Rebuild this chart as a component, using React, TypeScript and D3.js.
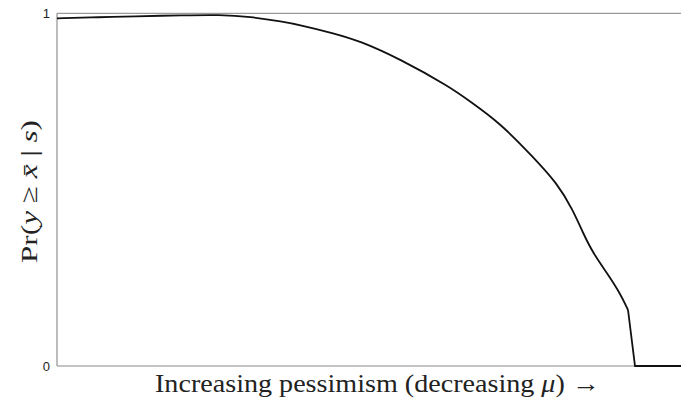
import React from "react";
import * as d3 from "d3";

const xs = [0, 0.0689, 0.1218, 0.2019, 0.2612, 0.3093, 0.3622, 0.3894, 0.4423, 0.4856, 0.5497, 0.6298, 0.6587, 0.7099, 0.7628, 0.8013, 0.8269, 0.8429, 0.859, 0.8814, 0.9022, 0.9151, 0.9263, 1];
const ys = [0.9858, 0.9889, 0.9915, 0.9943, 0.996, 0.9904, 0.9762, 0.9668, 0.9441, 0.9215, 0.8704, 0.791, 0.7543, 0.6895, 0.5926, 0.5189, 0.4423, 0.3771, 0.3204, 0.2637, 0.207, 0.1588, 0, 0];
const yTicks = [0, 1];

export default function App() {
  const W = 681, H = 401;
  const left = 57, right = 681, top = 13.3, bottom = 366;
  const x = d3.scaleLinear().domain([0, 1]).range([left, right]);
  const y = d3.scaleLinear().domain([0, 1]).range([bottom, top]);
  const data = xs.map((v, i) => [v, ys[i]] as [number, number]);
  const kinkIdx = 21;
  const smooth = d3.line<[number, number]>().x(d => x(d[0])).y(d => y(d[1])).curve(d3.curveBasis);
  const straight = d3.line<[number, number]>().x(d => x(d[0])).y(d => y(d[1]));
  return (
    <svg width={W} height={H} style={{ position: "absolute", left: 0, top: 0 }}>
      <rect width={W} height={H} fill="#fff" />
      <line x1={left} x2={right} y1={top} y2={top} stroke="#9a9a9a" strokeWidth={1.3} />
      <line x1={left} x2={right} y1={bottom} y2={bottom} stroke="#b0b0b0" strokeWidth={1.3} />
      <line x1={left} x2={left} y1={top} y2={bottom} stroke="#9a9a9a" strokeWidth={1.3} />
      {yTicks.map(t => (
        <text key={t} x={left - 7} y={y(t) + 5} textAnchor="end" fontFamily="Liberation Sans, Arial, sans-serif" fontSize={13} fill="#222">{t}</text>
      ))}
      <path d={smooth(data.slice(0, kinkIdx + 1)) || ""} fill="none" stroke="#111" strokeWidth={1.8} strokeLinejoin="round" />
      <path d={straight(data.slice(kinkIdx)) || ""} fill="none" stroke="#111" strokeWidth={1.8} />
      <text x={155} y={392} textLength={445} lengthAdjust="spacingAndGlyphs" fontFamily="Liberation Serif, serif" fontSize={25} fill="#222">
        Increasing pessimism (decreasing <tspan fontStyle="italic">μ</tspan>) →
      </text>
      <text transform={`translate(37, 191.5) rotate(-90)`} x={-71.5} y={0} textLength={143} lengthAdjust="spacingAndGlyphs" fontFamily="Liberation Serif, serif" fontSize={24} fill="#222">
        Pr(<tspan fontStyle="italic">y</tspan> ≥ <tspan fontStyle="italic">x̄</tspan> | <tspan fontStyle="italic">s</tspan>)
      </text>
    </svg>
  );
}
